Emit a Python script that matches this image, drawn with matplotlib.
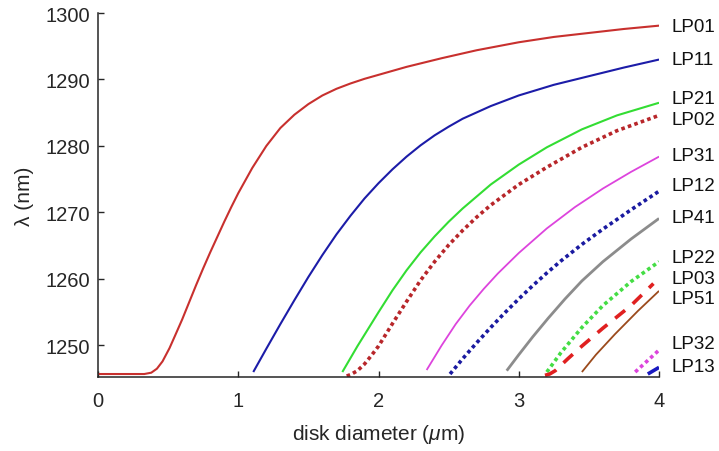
import matplotlib
matplotlib.use("Agg")
import matplotlib.pyplot as plt

plt.rcParams['font.family'] = ['Liberation Sans', 'DejaVu Sans']
plt.rcParams['mathtext.fontset'] = 'custom'
plt.rcParams['mathtext.it'] = 'Liberation Sans:italic'
plt.rcParams['mathtext.rm'] = 'Liberation Sans'

# ---- data ----
modes = ['LP01', 'LP11', 'LP21', 'LP02', 'LP31', 'LP12',
         'LP41', 'LP22', 'LP03', 'LP51', 'LP32', 'LP13']

lp01_x = [0, 0.33, 0.38, 0.42, 0.46, 0.51, 0.55, 0.60, 0.65, 0.70, 0.75,
          0.80, 0.85, 0.90, 0.95, 1.0, 1.1, 1.2, 1.3, 1.4, 1.5, 1.6, 1.7,
          1.8, 1.9, 2.0, 2.2, 2.45, 2.7, 3.0, 3.25, 3.5, 3.75, 4.0]
lp01_y = [1245.7, 1245.7, 1245.9, 1246.5, 1247.6, 1249.6, 1251.5, 1253.9,
          1256.5, 1259.1, 1261.6, 1264.0, 1266.3, 1268.6, 1270.8, 1272.9,
          1276.7, 1280.0, 1282.7, 1284.7, 1286.3, 1287.6, 1288.6, 1289.4,
          1290.1, 1290.7, 1291.9, 1293.2, 1294.4, 1295.6, 1296.4, 1297.0,
          1297.6, 1298.1]
lp11_x = [1.107, 1.2, 1.3, 1.4, 1.5, 1.6, 1.7, 1.8, 1.9, 2.0, 2.1, 2.2,
          2.3, 2.4, 2.5, 2.6, 2.8, 3.0, 3.25, 3.5, 3.75, 4.0]
lp11_y = [1246.0, 1249.5, 1253.2, 1256.8, 1260.3, 1263.6, 1266.7, 1269.5,
          1272.1, 1274.4, 1276.5, 1278.4, 1280.1, 1281.6, 1282.9, 1284.1,
          1286.0, 1287.6, 1289.2, 1290.5, 1291.8, 1293.0]
lp21_x = [1.742, 1.85, 2.0, 2.1, 2.2, 2.3, 2.4, 2.5, 2.6, 2.8, 3.0, 3.2,
          3.45, 3.7, 4.0]
lp21_y = [1246.0, 1249.9, 1255.0, 1258.3, 1261.3, 1264.0, 1266.4, 1268.6,
          1270.6, 1274.2, 1277.2, 1279.8, 1282.5, 1284.6, 1286.5]
lp02_x = [1.773, 1.8, 1.85, 1.9, 1.95, 2.0, 2.1, 2.2, 2.3, 2.4, 2.5, 2.6,
          2.7, 2.8, 3.0, 3.2, 3.45, 3.7, 4.0]
lp02_y = [1245.4, 1245.6, 1246.2, 1247.2, 1248.5, 1249.9, 1253.3, 1256.6,
          1259.8, 1262.6, 1265.1, 1267.3, 1269.3, 1271.1, 1274.2, 1276.8,
          1279.8, 1282.3, 1284.6]
lp31_x = [2.343, 2.45, 2.55, 2.65, 2.75, 2.85, 3.0, 3.2, 3.4, 3.6, 3.8, 4.0]
lp31_y = [1246.3, 1250.0, 1253.2, 1256.0, 1258.5, 1260.8, 1263.9, 1267.6,
          1270.8, 1273.6, 1276.1, 1278.4]
lp12_x = [2.51, 2.6, 2.7, 2.8, 2.9, 3.0, 3.1, 3.2, 3.3, 3.45, 3.6, 3.8, 4.0]
lp12_y = [1245.7, 1248.0, 1250.4, 1252.7, 1254.9, 1257.0, 1259.0, 1260.9,
          1262.7, 1265.2, 1267.5, 1270.4, 1273.2]
lp41_x = [2.914, 3.0, 3.1, 3.21, 3.33, 3.45, 3.6, 3.8, 4.0]
lp41_y = [1246.2, 1248.6, 1251.3, 1254.1, 1257.0, 1259.7, 1262.6, 1266.0,
          1269.1]
lp22_x = [3.2, 3.3, 3.45, 3.6, 3.8, 4.0]
lp22_y = [1246.0, 1248.9, 1252.7, 1256.0, 1259.6, 1262.6]
lp03_x = [3.187, 3.22, 3.26, 3.35, 3.45, 3.6, 3.8, 3.96]
lp03_y = [1245.5, 1245.7, 1246.2, 1248.0, 1249.9, 1252.6, 1256.0, 1259.3]
lp51_x = [3.45, 3.55, 3.686, 3.85, 4.0]
lp51_y = [1246.0, 1248.6, 1251.7, 1255.2, 1258.2]
lp32_x = [3.83, 4.0]
lp32_y = [1246.0, 1249.3]
lp13_x = [3.92, 4.0]
lp13_y = [1245.7, 1246.7]

xs = [lp01_x, lp11_x, lp21_x, lp02_x, lp31_x, lp12_x,
      lp41_x, lp22_x, lp03_x, lp51_x, lp32_x, lp13_x]
ys = [lp01_y, lp11_y, lp21_y, lp02_y, lp31_y, lp12_y,
      lp41_y, lp22_y, lp03_y, lp51_y, lp32_y, lp13_y]

x_ticks = [0, 1, 2, 3, 4]
y_ticks = [1250, 1260, 1270, 1280, 1290, 1300]

# ---- styles ----
colors = ['#c8302e', '#1c1ca8', '#33dd33', '#b8262a', '#dd44dd', '#1a1aa0',
          '#8c8c8c', '#44dd44', '#e02020', '#9b4a1c', '#dd44dd', '#1a1ac0']
styles = ['-', '-', '-', (0, (1, 0.9)), '-', (0, (1, 0.9)),
          '-', (0, (1, 0.9)), (0, (3.5, 2.8)), '-', (0, (1, 0.9)), '-']
widths = [1.5, 1.5, 1.5, 2.6, 1.3, 2.6, 2.0, 2.6, 2.6, 1.3, 2.6, 2.6]
label_y = [1297.9, 1293.0, 1287.1, 1284.0, 1278.6, 1274.0,
           1269.3, 1263.3, 1260.0, 1257.0, 1250.3, 1246.9]

fig = plt.figure(figsize=(7.19, 4.52), dpi=100)
ax = fig.add_axes([0.1363, 0.1637, 0.7803, 0.8053])

for x, y, c, ls, lw in zip(xs, ys, colors, styles, widths):
    ax.plot(x, y, color=c, linestyle=ls, linewidth=lw,
            solid_capstyle='butt', dash_capstyle='butt',
            solid_joinstyle='round')

for name, ly in zip(modes, label_y):
    ax.annotate(name, xy=(4, ly), xytext=(9, 0), textcoords='offset points',
                ha='left', va='center', fontsize=13.5, color='#111111',
                annotation_clip=False)

ax.set_xlim(0, 4)
ax.set_ylim(1245.25, 1300)
ax.set_xticks(x_ticks)
ax.set_yticks(y_ticks)
ax.tick_params(direction='in', length=4.5, width=1.0, labelsize=14.5,
               colors='#262626')
ax.tick_params(axis='x', pad=10)
ax.tick_params(axis='y', pad=6)
for s in ['top', 'right']:
    ax.spines[s].set_visible(False)
for s in ['left', 'bottom']:
    ax.spines[s].set_linewidth(1.1)
    ax.spines[s].set_color('#262626')

ax.set_xlabel(r'disk diameter ($\mu$m)', fontsize=15, color='#262626',
              labelpad=9)
ax.set_ylabel('λ (nm)', fontsize=15, color='#262626', labelpad=8)

fig.savefig('out.png', dpi=100)
